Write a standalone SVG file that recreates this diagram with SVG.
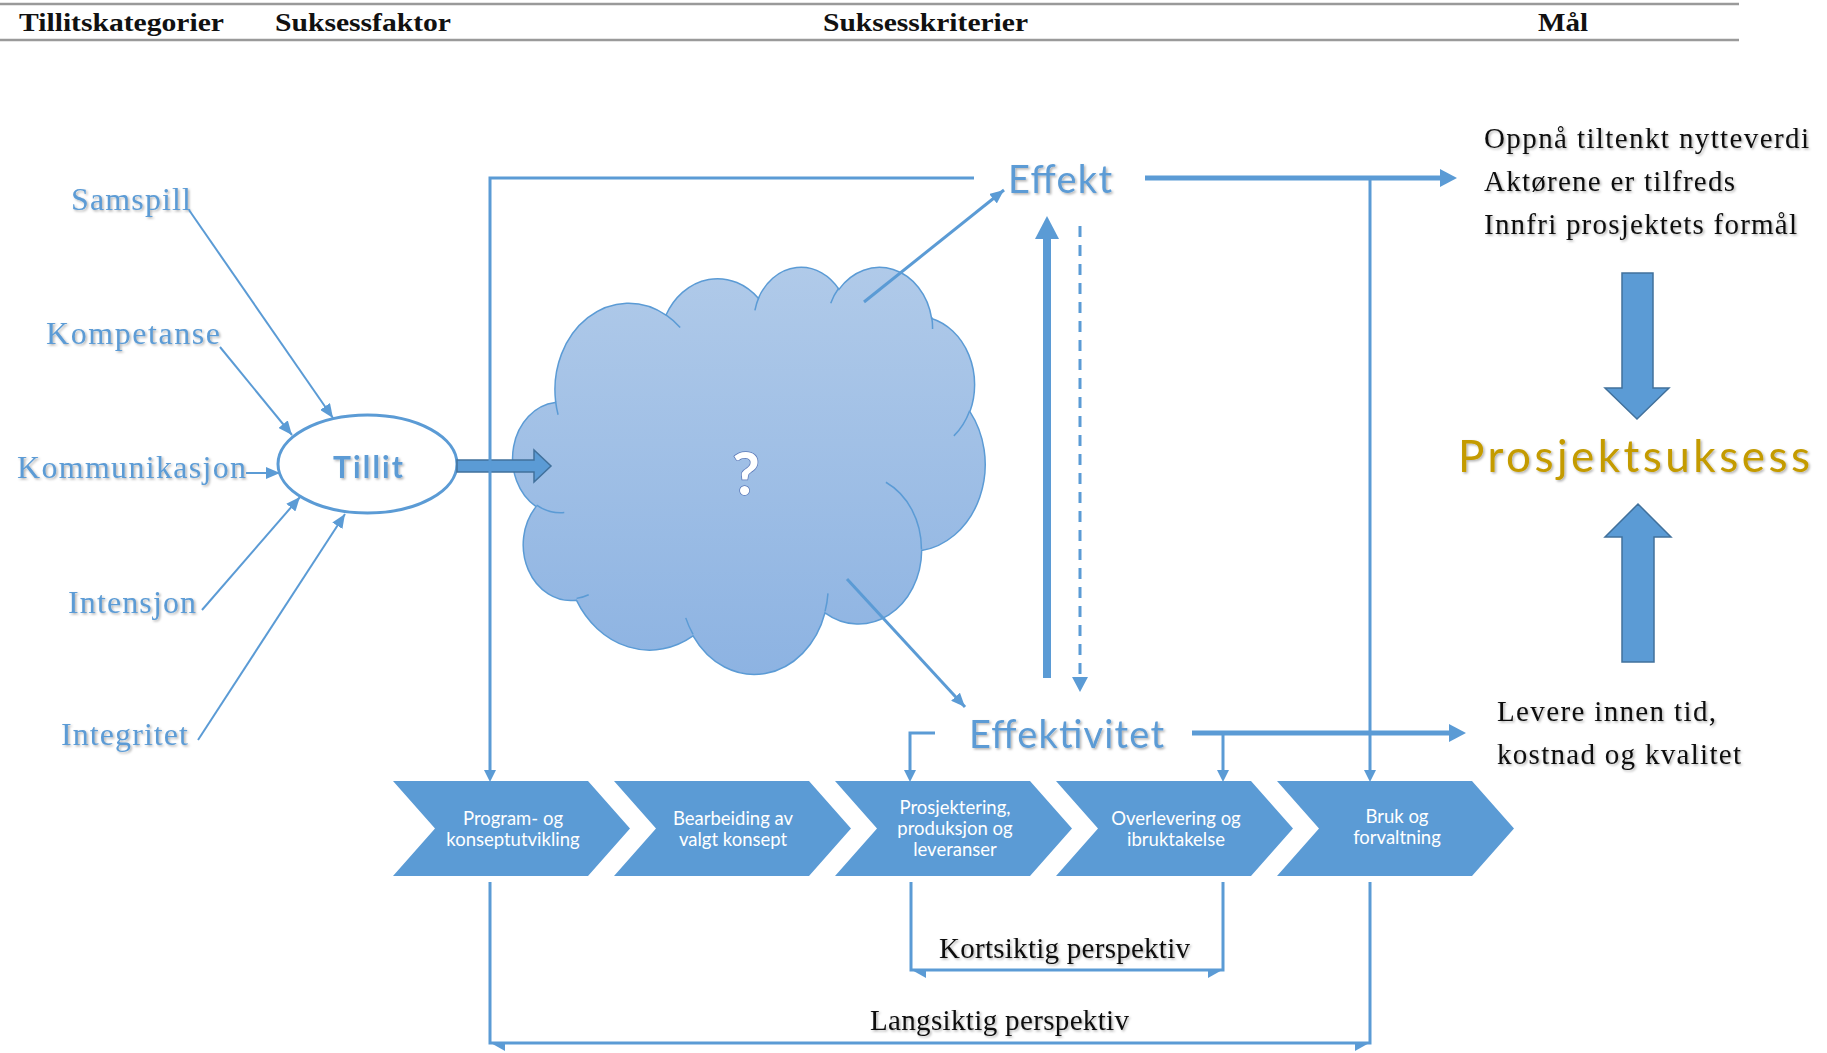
<svg xmlns="http://www.w3.org/2000/svg" width="1827" height="1053" viewBox="0 0 1827 1053">
  <style>
    .hdr { font-family: "Liberation Serif", "Times New Roman", serif; font-weight: bold; font-size: 26px; fill: #111; }
    .cat { font-family: "Liberation Serif", "Times New Roman", serif; font-size: 32px; fill: #5b9bd5; }
    .goal { font-family: "Liberation Serif", "Times New Roman", serif; font-size: 29px; fill: #111; }
    .persp { font-family: "Liberation Serif", "Times New Roman", serif; font-size: 29px; fill: #111; }
    .crit { font-family: Lato, "Open Sans", sans-serif; font-size: 38px; fill: #5b9bd5; }
    .step { font-family: Lato, "Open Sans", sans-serif; font-size: 18.5px; fill: #ffffff; text-anchor: middle; }
    .thin { fill: none; stroke: #5b9bd5; stroke-width: 3; }
    .feed { fill: none; stroke: #5b9bd5; stroke-width: 2; }
    .bold { fill: none; stroke: #5b9bd5; stroke-width: 5; }
    .head { fill: #5b9bd5; }
    .block { fill: #5b9bd5; stroke: #41719c; stroke-width: 1.5; }
    .chev { fill: #5b9bd5; }
  </style>
  <defs>
    <filter id="sh" x="-10%" y="-30%" width="130%" height="170%">
      <feDropShadow dx="1.5" dy="1.5" stdDeviation="1" flood-color="#000" flood-opacity="0.3"/>
    </filter>
    <linearGradient id="cloudFill" x1="0" y1="0" x2="0" y2="1">
      <stop offset="0" stop-color="#b0cae9"/>
      <stop offset="1" stop-color="#8db3e2"/>
    </linearGradient>
    <marker id="ah" markerUnits="userSpaceOnUse" markerWidth="14" markerHeight="12" viewBox="0 0 14 12" refX="14" refY="6" orient="auto">
      <path d="M0,0 L14,6 L0,12 z" fill="#5b9bd5"/>
    </marker>
  </defs>

  <rect width="1827" height="1053" fill="#ffffff"/>

  <!-- column headings -->
  <g id="header">
    <line x1="0" y1="4" x2="1739" y2="4" stroke="#9a9a9a" stroke-width="2.5"/>
    <line x1="0" y1="40" x2="1739" y2="40" stroke="#9a9a9a" stroke-width="2.5"/>
    <text class="hdr" x="19" y="31" textLength="205" lengthAdjust="spacingAndGlyphs">Tillitskategorier</text>
    <text class="hdr" x="275" y="31" textLength="176" lengthAdjust="spacingAndGlyphs">Suksessfaktor</text>
    <text class="hdr" x="823" y="31" textLength="205" lengthAdjust="spacingAndGlyphs">Suksesskriterier</text>
    <text class="hdr" x="1538" y="31" textLength="50" lengthAdjust="spacingAndGlyphs">Mål</text>
  </g>

  <!-- trust categories -->
  <g id="cat-samspill" filter="url(#sh)"><text class="cat" x="71" y="210" textLength="120">Samspill</text></g>
  <g id="cat-kompetanse" filter="url(#sh)"><text class="cat" x="46" y="344" textLength="174">Kompetanse</text></g>
  <g id="cat-kommunikasjon" filter="url(#sh)"><text class="cat" x="17" y="478" textLength="229">Kommunikasjon</text></g>
  <g id="cat-intensjon" filter="url(#sh)"><text class="cat" x="68" y="613" textLength="128">Intensjon</text></g>
  <g id="cat-integritet" filter="url(#sh)"><text class="cat" x="61" y="745" textLength="127">Integritet</text></g>

  <!-- success factor -->
  <g id="tillit">
    <ellipse cx="367.5" cy="464" rx="89.5" ry="49" fill="#ffffff" stroke="#5b9bd5" stroke-width="3"/>
    <text x="368" y="478" text-anchor="middle" font-family="Lato, 'Open Sans', sans-serif" font-weight="bold" font-size="30" fill="#5b9bd5" textLength="70" filter="url(#sh)">Tillit</text>
  </g>

  <!-- unknown mechanism -->
  <g id="cloud">
    <g transform="translate(513 266) scale(0.010926 0.009421)">
      <path fill="url(#cloudFill)" stroke="#5b9bd5" stroke-width="1.5" vector-effect="non-scaling-stroke"
        d="M3900 14370 A6753 9190 0 0 1 14005 5202 A5333 7267 0 0 1 22456 3433 A4365 5945 0 0 1 29833 2480 A4857 6595 0 0 1 38318 5576 A5333 7273 0 0 1 41818 15460 A6775 9220 0 0 1 37403 30202 A5785 7867 0 0 1 28554 36812 A6752 9215 0 0 1 16479 39264 A7720 10543 0 0 1 5801 35467 A4360 5918 0 0 1 2111 25544 A4345 5945 0 0 1 3861 14500 Z"/>
      <path fill="none" stroke="#5b9bd5" stroke-width="1.5" vector-effect="non-scaling-stroke"
        d="M4693 26177 A4345 5945 0 0 1 2160 25380 M6928 34899 A4360 5918 0 0 1 5820 35280 M16478 39090 A6752 9215 0 0 1 15810 37349 M28827 34751 A6752 9215 0 0 1 28560 36660 M34129 22954 A5785 7867 0 0 1 37381 30090 M41798 15354 A5333 7273 0 0 1 40349 18031 M38324 5426 A4857 6595 0 0 1 38400 6690 M29078 3952 A4857 6595 0 0 1 29820 2339 M22141 4720 A4365 5945 0 0 1 22500 3331 M14000 5192 A6753 9190 0 0 1 15300 6540 M4127 15789 A6753 9190 0 0 1 3900 14370"/>
    </g>
    <text x="746" y="495" text-anchor="middle" font-family="Lato, 'Open Sans', sans-serif" font-weight="bold" font-size="60" fill="#ffffff" stroke="#5a78b8" stroke-width="1.5" paint-order="stroke">?</text>
  </g>

  <!-- success criteria -->
  <g id="effekt" filter="url(#sh)"><text class="crit" x="1008" y="193" textLength="104">Effekt</text></g>
  <g id="effektivitet" filter="url(#sh)"><text class="crit" x="969" y="748" textLength="195">Effektivitet</text></g>

  <!-- goals -->
  <g id="goal-effekt" filter="url(#sh)">
    <text class="goal" x="1484" y="148" textLength="325">Oppnå tiltenkt nytteverdi</text>
    <text class="goal" x="1484" y="191" textLength="251">Aktørene er tilfreds</text>
    <text class="goal" x="1484" y="234" textLength="313">Innfri prosjektets formål</text>
  </g>
  <g id="goal-effektivitet" filter="url(#sh)">
    <text class="goal" x="1497" y="721" textLength="219">Levere innen tid,</text>
    <text class="goal" x="1497" y="764" textLength="244">kostnad og kvalitet</text>
  </g>
  <g id="prosjektsuksess">
    <text x="1458" y="472" font-family="Lato, 'Open Sans', sans-serif" font-size="44" fill="#c49b06" textLength="352" filter="url(#sh)">Prosjektsuksess</text>
  </g>

  <!-- project phases -->
  <g id="phase-1">
    <polygon class="chev" points="393,781 588,781 630,828.5 588,876 393,876 435,828.5"/>
    <text class="step" x="513" y="825">Program- og</text>
    <text class="step" x="513" y="846">konseptutvikling</text>
  </g>
  <g id="phase-2">
    <polygon class="chev" points="614,781 809,781 851,828.5 809,876 614,876 656,828.5"/>
    <text class="step" x="733" y="825">Bearbeiding av</text>
    <text class="step" x="733" y="846">valgt konsept</text>
  </g>
  <g id="phase-3">
    <polygon class="chev" points="835,781 1030,781 1072,828.5 1030,876 835,876 877,828.5"/>
    <text class="step" x="955" y="814">Prosjektering,</text>
    <text class="step" x="955" y="835">produksjon og</text>
    <text class="step" x="955" y="856">leveranser</text>
  </g>
  <g id="phase-4">
    <polygon class="chev" points="1056,781 1251,781 1293,828.5 1251,876 1056,876 1098,828.5"/>
    <text class="step" x="1176" y="825">Overlevering og</text>
    <text class="step" x="1176" y="846">ibruktakelse</text>
  </g>
  <g id="phase-5">
    <polygon class="chev" points="1277,781 1472,781 1514,828.5 1472,876 1277,876 1319,828.5"/>
    <text class="step" x="1397" y="823">Bruk og</text>
    <text class="step" x="1397" y="844">forvaltning</text>
  </g>

  <!-- perspective labels -->
  <g id="kortsiktig" filter="url(#sh)"><text class="persp" x="939" y="958" textLength="251">Kortsiktig perspektiv</text></g>
  <g id="langsiktig" filter="url(#sh)"><text class="persp" x="870" y="1030" textLength="259">Langsiktig perspektiv</text></g>

  <g id="connectors">
    <!-- categories into trust -->
    <line class="feed" x1="189" y1="210" x2="333" y2="418" marker-end="url(#ah)"/>
    <line class="feed" x1="220" y1="347" x2="292" y2="435" marker-end="url(#ah)"/>
    <line class="feed" x1="246" y1="473" x2="280" y2="473" marker-end="url(#ah)"/>
    <line class="feed" x1="202" y1="610" x2="300" y2="497" marker-end="url(#ah)"/>
    <line class="feed" x1="198" y1="740" x2="345" y2="514" marker-end="url(#ah)"/>

    <!-- trust into the cloud -->
    <polygon class="block" points="457,460 534,460 534,450 551,466 534,482 534,472 457,472"/>

    <!-- cloud to criteria -->
    <line class="thin" x1="864" y1="302" x2="1004" y2="190" marker-end="url(#ah)"/>
    <line class="thin" x1="847" y1="579" x2="965" y2="707" marker-end="url(#ah)"/>

    <!-- effectiveness up to effect, and back down -->
    <rect class="head" x="1043" y="236" width="8" height="442"/>
    <polygon class="head" points="1035,239 1047,216 1059,239"/>
    <line x1="1080" y1="226" x2="1080" y2="677" stroke="#5b9bd5" stroke-width="3" stroke-dasharray="11 8"/>
    <polygon class="head" points="1072,677 1088,677 1080,692"/>

    <!-- effect: long-term line -->
    <path class="thin" d="M974 178 H490 V771"/>
    <polygon class="head" points="484,770 496,770 490,782"/>
    <line class="bold" x1="1145" y1="178" x2="1441" y2="178"/>
    <polygon class="head" points="1440,169 1457,178 1440,187"/>
    <line class="thin" x1="1370" y1="178" x2="1370" y2="771"/>
    <polygon class="head" points="1364,770 1376,770 1370,782"/>

    <!-- effectiveness: short-term line -->
    <path class="thin" d="M935 733 H910 V771"/>
    <polygon class="head" points="904,770 916,770 910,782"/>
    <line class="bold" x1="1192" y1="733" x2="1450" y2="733"/>
    <polygon class="head" points="1449,724 1466,733 1449,742"/>
    <line class="thin" x1="1223" y1="733" x2="1223" y2="771"/>
    <polygon class="head" points="1217,770 1229,770 1223,782"/>

    <!-- perspective spans -->
    <path class="thin" d="M911 882 V970 H1223 V882"/>
    <polygon class="head" points="910,969 926,969 926,978"/>
    <polygon class="head" points="1224,969 1208,969 1208,978"/>
    <path class="thin" d="M490 882 V1043 H1370 V882"/>
    <polygon class="head" points="489,1042 505,1042 505,1051"/>
    <polygon class="head" points="1371,1042 1355,1042 1355,1051"/>

    <!-- both criteria lead to project success -->
    <polygon class="block" points="1622,273 1653,273 1653,388 1669,388 1637,419 1605,388 1622,388"/>
    <polygon class="block" points="1622,662 1654,662 1654,537 1671,537 1638,504 1605,537 1622,537"/>
  </g>
</svg>
